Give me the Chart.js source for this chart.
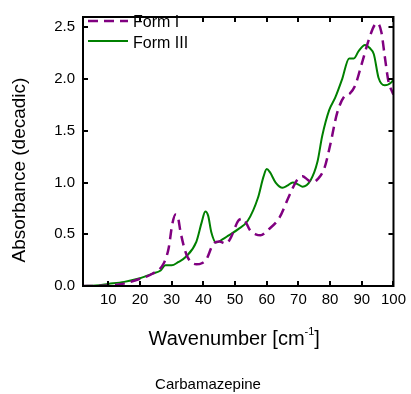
<!DOCTYPE html>
<html>
<head>
<meta charset="utf-8">
<script src="https://cdn.jsdelivr.net/npm/chart.js@4"></script>
<style>
  html, body { margin: 0; padding: 0; background: #fff; }
  #chart { display: block; }
</style>
</head>
<body>
<canvas id="chart" width="411" height="394"></canvas>
<script>
// Carbamazepine - Absorbance spectra
const formIX = [2, 10, 14.4, 20, 24, 27.5, 29, 30.2, 31.2, 32, 32.8, 34.7, 37.8, 39.5, 41, 43, 45, 47.2, 48.7, 51, 52.5, 54.7, 56.5, 58, 60.3, 64, 67.2, 69.7, 71.3, 72.8, 74.4, 76, 78.2, 80, 82.2, 84.4, 86.2, 87.8, 90, 92.2, 94, 95, 96.2, 97.2, 98.4, 99.7, 100];
const formIY = [0.0, 0.005, 0.02, 0.07, 0.12, 0.22, 0.36, 0.6, 0.69, 0.66, 0.52, 0.3, 0.21, 0.22, 0.26, 0.40, 0.43, 0.41, 0.47, 0.63, 0.65, 0.54, 0.5, 0.49, 0.54, 0.66, 0.88, 1.03, 1.06, 1.03, 1.0, 1.03, 1.14, 1.36, 1.67, 1.83, 1.86, 1.93, 2.15, 2.38, 2.52, 2.54, 2.45, 2.23, 1.98, 1.87, 1.85];

const formIIIX = [2, 6, 10, 15, 20, 24, 26.5, 28, 30, 32, 34.4, 37.8, 39.5, 40.6, 41.5, 42.5, 44, 46, 48, 51, 54, 57.2, 59, 60, 61, 62.8, 65, 66.5, 68.2, 70, 71.3, 73.8, 76, 77.5, 79.7, 81.6, 83.8, 86, 87.5, 89, 91, 92.5, 93.8, 95.3, 97.2, 99.4, 100];
const formIIIY = [0.0, 0.005, 0.02, 0.04, 0.075, 0.12, 0.15, 0.2, 0.2, 0.23, 0.28, 0.43, 0.62, 0.72, 0.68, 0.52, 0.42, 0.45, 0.49, 0.55, 0.63, 0.85, 1.06, 1.13, 1.1, 1.0, 0.95, 0.97, 1.0, 0.98, 0.96, 1.02, 1.2, 1.45, 1.70, 1.82, 2.0, 2.2, 2.2, 2.27, 2.33, 2.3, 2.24, 2.01, 1.94, 1.97, 2.0];

const xTicks = [10, 20, 30, 40, 50, 60, 70, 80, 90, 100];
const xTopTicks = [20, 40, 50, 60, 70, 80, 90, 100]; // 10 and 30 sit behind the legend
const yTicks = [0.0, 0.5, 1.0, 1.5, 2.0, 2.5];

const seriesNames = ['Form I', 'Form III'];
const seriesColors = ['#800080', '#008000'];

const FONT = '"Liberation Sans", Arial, sans-serif';

function toPoints(xs, ys) {
    return xs.map((x, i) => ({ x: x, y: ys[i] }));
}

const framePlugin = {
    id: 'frame',
    afterDraw(chart) {
        const ctx = chart.ctx;
        const area = chart.chartArea;
        const xs = chart.scales.x;
        const ys = chart.scales.y;
        ctx.save();
        ctx.strokeStyle = '#000';
        ctx.lineWidth = 2;
        ctx.strokeRect(area.left, area.top, area.right - area.left, area.bottom - area.top);

        // inward ticks on all four sides
        const len = 5;
        ctx.beginPath();
        xTicks.forEach(v => {
            const px = Math.round(xs.getPixelForValue(v));
            ctx.moveTo(px, area.bottom);
            ctx.lineTo(px, area.bottom - len);
        });
        xTopTicks.forEach(v => {
            const px = Math.round(xs.getPixelForValue(v));
            ctx.moveTo(px, area.top);
            ctx.lineTo(px, area.top + len);
        });
        yTicks.forEach(v => {
            const py = Math.round(ys.getPixelForValue(v));
            ctx.moveTo(area.left, py);
            ctx.lineTo(area.left + len, py);
            ctx.moveTo(area.right, py);
            ctx.lineTo(area.right - len, py);
        });
        ctx.stroke();

        // legend
        ctx.lineWidth = 2.5;
        ctx.strokeStyle = seriesColors[0];
        ctx.setLineDash([10, 6]);
        ctx.beginPath();
        ctx.moveTo(88, 21);
        ctx.lineTo(128, 21);
        ctx.stroke();
        ctx.setLineDash([]);
        ctx.lineWidth = 2;
        ctx.strokeStyle = seriesColors[1];
        ctx.beginPath();
        ctx.moveTo(88, 41);
        ctx.lineTo(128, 41);
        ctx.stroke();
        ctx.fillStyle = '#000';
        ctx.font = '16px ' + FONT;
        ctx.textBaseline = 'alphabetic';
        ctx.textAlign = 'left';
        ctx.fillText(seriesNames[0], 133, 27);
        ctx.fillText(seriesNames[1], 133, 48);

        // x axis title with superscript
        const main = 'Wavenumber [cm';
        const sup = '-1';
        const end = ']';
        ctx.font = '20px ' + FONT;
        const wMain = ctx.measureText(main).width;
        const wEnd = ctx.measureText(end).width;
        ctx.font = '11px ' + FONT;
        const wSup = ctx.measureText(sup).width;
        const total = wMain + wSup + wEnd;
        const x0 = (area.left + area.right) / 2 - 4 - total / 2;
        const base = 345;
        ctx.font = '20px ' + FONT;
        ctx.fillText(main, x0, base);
        ctx.font = '11px ' + FONT;
        ctx.fillText(sup, x0 + wMain, base - 10);
        ctx.font = '20px ' + FONT;
        ctx.fillText(end, x0 + wMain + wSup, base);

        // y axis title
        ctx.save();
        ctx.translate(25, 170);
        ctx.rotate(-Math.PI / 2);
        ctx.textAlign = 'center';
        ctx.font = '19px ' + FONT;
        ctx.fillText('Absorbance (decadic)', 0, 0);
        ctx.restore();

        // caption
        ctx.textAlign = 'center';
        ctx.font = '15px ' + FONT;
        ctx.fillText('Carbamazepine', 208, 389);
        ctx.restore();
    }
};

new Chart(document.getElementById('chart').getContext('2d'), {
    type: 'line',
    data: {
        datasets: [{
            label: seriesNames[0],
            data: toPoints(formIX, formIY),
            borderColor: seriesColors[0],
            borderWidth: 2.5,
            borderDash: [10, 6],
            pointRadius: 0,
            cubicInterpolationMode: 'monotone',
            fill: false
        }, {
            label: seriesNames[1],
            data: toPoints(formIIIX, formIIIY),
            borderColor: seriesColors[1],
            borderWidth: 2,
            pointRadius: 0,
            cubicInterpolationMode: 'monotone',
            fill: false
        }]
    },
    options: {
        responsive: false,
        animation: false,
        devicePixelRatio: 1,
        layout: { padding: { left: 0, right: 14, top: 7, bottom: 0 } },
        plugins: {
            legend: { display: false },
            tooltip: { enabled: false }
        },
        scales: {
            x: {
                type: 'linear',
                min: 2,
                max: 100,
                afterBuildTicks: scale => { scale.ticks = xTicks.map(v => ({ value: v })); },
                afterFit: scale => { scale.height = 108; },
                grid: { display: false, drawTicks: false },
                border: { display: false },
                ticks: {
                    color: '#000',
                    font: { family: FONT, size: 15 },
                    padding: 5,
                    maxRotation: 0,
                    autoSkip: false,
                    callback: v => String(v)
                }
            },
            y: {
                type: 'linear',
                min: 0,
                max: 2.6,
                afterBuildTicks: scale => { scale.ticks = yTicks.map(v => ({ value: v })); },
                afterFit: scale => { scale.width = 83; },
                grid: { display: false, drawTicks: false },
                border: { display: false },
                ticks: {
                    color: '#000',
                    font: { family: FONT, size: 15 },
                    padding: 8,
                    autoSkip: false,
                    callback: v => v.toFixed(1)
                }
            }
        }
    },
    plugins: [framePlugin]
});
</script>
</body>
</html>
